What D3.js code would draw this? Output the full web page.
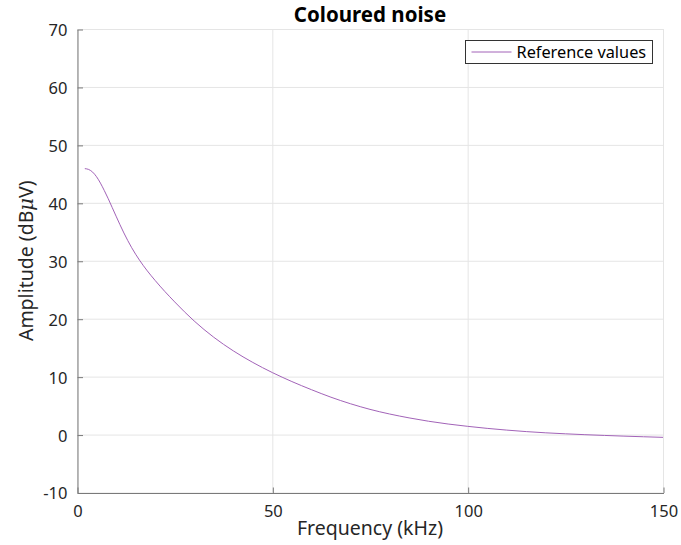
<!DOCTYPE html>
<html>
<head>
<meta charset="utf-8">
<script src="https://cdn.jsdelivr.net/npm/d3@7"></script>
<style>
  html, body { margin: 0; padding: 0; background: #fff; }
  svg { display: block; font-family: "Noto Sans", "Open Sans", sans-serif; }
</style>
</head>
<body>
<svg id="chart" width="681" height="545"></svg>
<script>
// Frequency (kHz) and amplitude (dBµV) of the coloured-noise reference curve
const frequency = [2, 3, 4, 5, 6, 7, 8, 9, 10, 12, 14, 16, 18, 20, 25, 30, 35, 40, 45, 50,
  55, 60, 65, 70, 75, 80, 85, 90, 95, 100, 105, 110, 115, 120, 125, 130, 135, 140, 145, 150];
const amplitude = [45.9, 45.75, 45.3, 44.5, 43.4, 42.1, 40.7, 39.2, 37.7, 34.8, 32.25, 30.1, 28.25, 26.6, 22.9, 19.6, 16.8, 14.45, 12.45, 10.7,
  9.15, 7.75, 6.45, 5.32, 4.35, 3.55, 2.88, 2.3, 1.82, 1.42, 1.07, 0.77, 0.51, 0.3, 0.13, -0.02, -0.15, -0.27, -0.38, -0.48];
const xTicks = [0, 50, 100, 150];
const yTicks = [-10, 0, 10, 20, 30, 40, 50, 60, 70];
const seriesName = "Reference values";

const svg = d3.select("#chart");
const margin = { left: 77, right: 18, top: 29, bottom: 52.5 };
const W = 681, H = 545;
const x = d3.scaleLinear().domain([0, 150]).range([margin.left, W - margin.right]);
const y = d3.scaleLinear().domain([-10, 70]).range([H - margin.bottom, margin.top]);

const gridColor = "#e5e5e5";
const axisColor = "#7a7a7a";
const lineColor = "#a263b8";

// grid
svg.append("g").selectAll("line").data(yTicks).join("line")
  .attr("x1", x(0)).attr("x2", x(150))
  .attr("y1", d => y(d) + 0.5).attr("y2", d => y(d) + 0.5)
  .attr("stroke", gridColor).attr("stroke-width", 1);
svg.append("g").selectAll("line").data(xTicks).join("line")
  .attr("x1", d => x(d) + 0.5).attr("x2", d => x(d) + 0.5)
  .attr("y1", y(-10)).attr("y2", y(70))
  .attr("stroke", gridColor).attr("stroke-width", 1);

// axes with inward ticks; plain hyphen for negatives
const fmt = d => String(d);
const xAxis = d3.axisBottom(x).tickValues(xTicks).tickFormat(fmt).tickSizeInner(-5.5).tickSizeOuter(0).tickPadding(12);
const yAxis = d3.axisLeft(y).tickValues(yTicks).tickFormat(fmt).tickSizeInner(-5.5).tickSizeOuter(0).tickPadding(10);

const gx = svg.append("g").attr("transform", `translate(0.5,${y(-10) + 0.5})`).call(xAxis);
const gy = svg.append("g").attr("transform", `translate(${x(0) + 0.5},0.5)`).call(yAxis);
[gx, gy].forEach(g => {
  g.select(".domain").attr("stroke", axisColor).attr("stroke-width", 1);
  g.selectAll(".tick line").attr("stroke", axisColor);
  g.selectAll(".tick text").attr("fill", "#262626").attr("font-size", 16.5)
    .attr("font-family", "\"Noto Sans\", sans-serif");
});
gy.selectAll(".tick text").attr("dy", "0.36em");

// curve
const line = d3.line()
  .x((d, i) => x(frequency[i]))
  .y(d => y(d))
  .curve(d3.curveMonotoneX);
svg.append("path").datum(amplitude)
  .attr("d", line)
  .attr("fill", "none")
  .attr("stroke", lineColor)
  .attr("stroke-width", 1);

// title
svg.append("text")
  .attr("x", (x(0) + x(150)) / 2).attr("y", 21.5)
  .attr("text-anchor", "middle")
  .attr("font-weight", "bold").attr("font-size", 20.5)
  .attr("fill", "#000")
  .text("Coloured noise");

// axis labels
svg.append("text")
  .attr("x", (x(0) + x(150)) / 2).attr("y", 535)
  .attr("text-anchor", "middle")
  .attr("font-size", 19.5).attr("fill", "#262626")
  .text("Frequency (kHz)");

const yl = svg.append("text")
  .attr("transform", `translate(33,${(y(-10) + y(70)) / 2}) rotate(-90)`)
  .attr("text-anchor", "middle")
  .attr("font-size", 19.5).attr("fill", "#262626");
yl.append("tspan").text("Amplitude (dB");
yl.append("tspan").attr("font-style", "italic").attr("font-family", "\"DejaVu Serif\", serif").text("\u03bc");
yl.append("tspan").text("V)");

// legend
const lg = svg.append("g").attr("transform", "translate(465.5,40.5)");
lg.append("rect").attr("width", 187).attr("height", 23)
  .attr("fill", "#fff").attr("stroke", "#333").attr("stroke-width", 1);
lg.append("line").attr("x1", 6).attr("x2", 46).attr("y1", 11.5).attr("y2", 11.5)
  .attr("stroke", lineColor).attr("stroke-width", 1);
lg.append("text").attr("x", 51).attr("y", 17)
  .attr("font-size", 16.3).attr("fill", "#000")
  .text(seriesName);
</script>
</body>
</html>
